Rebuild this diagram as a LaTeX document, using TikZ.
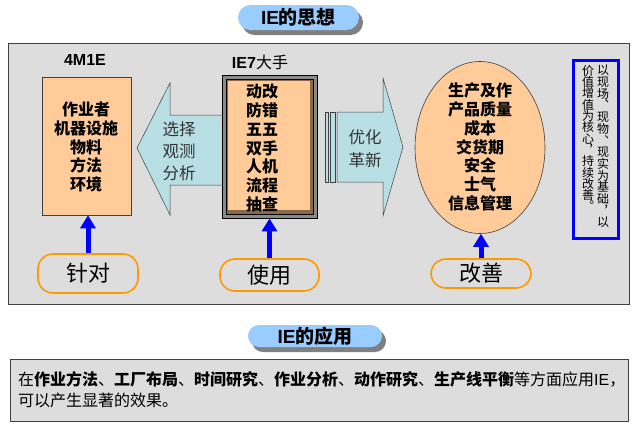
\documentclass[tikz,border=0pt]{standalone}
\usepackage{fontspec}
\setmainfont{Noto Sans CJK SC}
\newfontfamily\lat{Liberation Sans}
\newfontfamily\vfont{Noto Sans CJK SC}[RawFeature=+vert]
\usetikzlibrary{arrows.meta,shapes.geometric,shadows}
\definecolor{peach}{HTML}{FFCC99}
\definecolor{bggray}{HTML}{DDDDDD}
\definecolor{cyanfill}{HTML}{B8E0E4}
\definecolor{pillblue}{HTML}{99CCFF}
\definecolor{orangeb}{HTML}{FF9900}
\definecolor{edge}{HTML}{404040}
\definecolor{txtgray}{HTML}{333333}
\definecolor{brownb}{HTML}{8C6A48}
\definecolor{framegray}{HTML}{8A8A8A}
\tikzset{
  panel/.style={draw=edge, fill=bggray, line width=0.8pt, inner sep=0pt},
  titlepill/.style={fill=pillblue, inner sep=0pt, font=\bfseries\fontsize{19}{19}\selectfont,
    drop shadow={shadow xshift=4pt, shadow yshift=-5pt, fill=gray, opacity=1}},
  peachbox/.style={draw=edge, fill=peach, line width=0.6pt, inner sep=0pt},
  boldtxt/.style={font=\bfseries\fontsize{16}{18.8}\selectfont, align=center, inner sep=0pt},
  plaintxt/.style={font=\fontsize{16.5}{22}\selectfont, align=center, inner sep=0pt, text=txtgray},
  bigarrow/.style={draw=edge, fill=cyanfill, line width=0.5pt},
  pill/.style={draw=orangeb, line width=1.6pt, fill=bggray, rounded corners=15pt, inner sep=0pt,
    font=\fontsize{22}{22}\selectfont},
  uparrow/.style={draw=blue, line width=5pt, -{Triangle[width=15pt,length=13pt]}},
  vcol/.style={font=\vfont\fontsize{12}{11.7}\selectfont, align=center, inner sep=0pt}
}
\begin{document}
\begin{tikzpicture}[x=1pt,y=-1pt]
\useasboundingbox (0,0) rectangle (637,432);
\fill[white] (0,0) rectangle (637,432);

% main panel
\node[panel, minimum width=621, minimum height=261] (main) at (318.5,173.5) {};
% title pill
\node[titlepill, minimum width=121, minimum height=25, rounded corners=12.5pt] (title) at (298.5,17.5) {{\lat\bfseries IE}的思想};

% headings
\node[font=\lat\bfseries\fontsize{16}{16}\selectfont, inner sep=0pt] (h4m) at (85,60) {4M1E};
\node[font=\fontsize{16}{16}\selectfont, inner sep=0pt] (hie7) at (260,62) {{\lat\bfseries IE7}大手};

% left big arrow
\draw[bigarrow] (137,148) -- (170,83) -- (170,115) -- (224,115) -- (224,185) -- (170,185) -- (170,215) -- cycle;
\node[plaintxt] (la) at (179,151) {选择\\观测\\分析};

% 4M1E box
\node[peachbox, minimum width=89, minimum height=138] (box4m) at (86.5,146) {};
\node[boldtxt] (t4m) at (86,147) {作业者\\机器设施\\物料\\方法\\环境};

% IE7 frame
\node[draw=black, fill=framegray, line width=0.8pt, minimum width=95, minimum height=143, inner sep=0pt] (ie7) at (269.5,146.5) {};
\node[draw=black, fill=brownb, line width=0.8pt, minimum width=87, minimum height=135, inner sep=0pt] (ie7b) at (269.5,146.5) {};
\node[fill=peach, minimum width=82, minimum height=129, inner sep=0pt] (ie7c) at (269,145.5) {};
\node[font=\bfseries\fontsize{16}{18.7}\selectfont, align=center, inner sep=0pt] (tie7) at (262,148) {动改\\防错\\五五\\双手\\人机\\流程\\抽查};

% right big arrow
\node[bigarrow, minimum width=3, minimum height=70, inner sep=0pt] (bar1) at (326.5,147) {};
\node[bigarrow, minimum width=5, minimum height=70, inner sep=0pt] (bar2) at (332.5,147) {};
\draw[bigarrow] (337,112) -- (383,112) -- (383,78) -- (403,147) -- (383,216) -- (383,182) -- (337,182) -- cycle;
\node[plaintxt, font=\fontsize{16.5}{23}\selectfont] (ra) at (365,148.5) {优化\\革新};

% ellipse
\node[ellipse, draw=edge, fill=peach, line width=0.6pt, minimum width=130, minimum height=172, inner sep=0pt] (ell) at (480,147.5) {};
\node[boldtxt] (tell) at (480,147) {生产及作\hspace{14pt}\\产品质量\\成本\\交货期\\安全\\士气\\信息管理};

% blue vertical text box
\node[draw=blue, line width=3pt, fill=bggray, minimum width=45, minimum height=178, inner sep=0pt] (vbox) at (596,149) {};
\node[vcol, anchor=north] (vc1) at (603,65) {以\\现\\场\\、\\现\\物\\、\\现\\实\\为\\基\\础\\，\\以};
\node[vcol, anchor=north, font=\vfont\fontsize{12}{11.3}\selectfont] (vc2) at (588,65) {价\\值\\增\\值\\为\\核\\心\\，\\持\\续\\改\\善\\。};

% pills
\node[pill, minimum width=100, minimum height=39] (p1) at (88,273.5) {针对};
\node[pill, minimum width=99, minimum height=32] (p2) at (269.5,275) {使用};
\node[pill, minimum width=100, minimum height=29] (p3) at (481,273.5) {改善};

% blue arrows
\draw[uparrow] (p1.north) -- (p1.north |- box4m.south);
\draw[uparrow] (p2.north) -- (p2.north |- ie7.south);
\draw[uparrow] (p3.north) -- (p3.north |- ell.south);

% second title
\node[titlepill, minimum width=134, minimum height=22, rounded corners=11pt] (title2) at (315,336) {{\lat\bfseries IE}的应用};

% bottom panel
\node[panel, minimum width=618, minimum height=62] (bottom) at (319,390) {};
\node[font=\fontsize{16}{20.5}\selectfont, align=left, anchor=west, inner sep=0pt] (btxt) at (18,389.5)
 {在\textbf{作业方法}、\textbf{工厂布局}、\textbf{时间研究}、\textbf{作业分析}、\textbf{动作研究}、\textbf{生产线平衡}等方面应用{\lat IE}，\\可以产生显著的效果。};
\end{tikzpicture}
\end{document}
